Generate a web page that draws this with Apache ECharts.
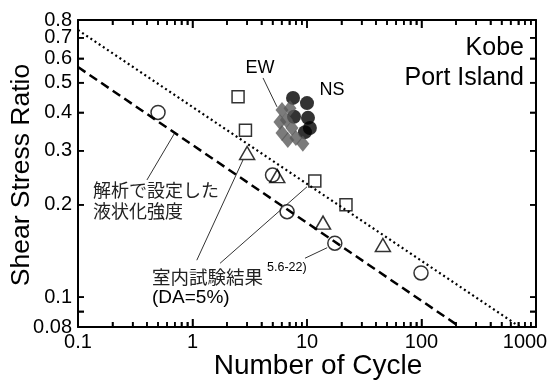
<!DOCTYPE html>
<html><head><meta charset="utf-8">
<script src="https://cdn.jsdelivr.net/npm/echarts@6/dist/echarts.min.js"></script>
<style>html,body{margin:0;padding:0;background:#fff}#c{width:550px;height:381px}</style>
</head><body><div id="c"></div>
<script>
// ---- data (N = number of cycles, ratio = shear stress ratio) ----
const xMajorTicks = [0.1, 1, 10, 100, 1000];
const xLabels = [0.1, 1, 10, 100];
const xLastLabel = [1000];
const xMinorTicks = [0.2,0.3,0.4,0.5,0.6,0.7,0.8,0.9, 2,3,4,5,6,7,8,9, 20,30,40,50,60,70,80,90, 200,300,400,500,600,700,800,900];
const yTicks = [0.09, 0.1, 0.2, 0.3, 0.4, 0.5, 0.6, 0.7];
const yLabels = [0.08, 0.1, 0.2, 0.3, 0.4, 0.5, 0.6, 0.7];
const yTopLabel = [0.79999];

const circles   = [[0.5, 0.40], [5.0, 0.25], [6.7, 0.19], [17.5, 0.15], [99, 0.12]];
const squares   = [[2.5, 0.45], [2.9, 0.35], [11.7, 0.239], [21.9, 0.20]];
const triangles = [[3.0, 0.295], [5.5, 0.248], [13.8, 0.175], [46, 0.148]];
const nsPoints  = [[7.55, 0.446], [10.0, 0.429], [10.2, 0.384], [10.6, 0.356], [9.6, 0.345], [7.7, 0.387]];
const ewPoints  = [[6.05, 0.407], [5.8, 0.372], [6.05, 0.343], [7.1, 0.413], [6.6, 0.378], [7.4, 0.356], [6.8, 0.325], [8.0, 0.330], [9.2, 0.316]];

const dottedLine = [[0.1, 0.742], [725, 0.08]];
const dashedLine = [[0.1, 0.562], [217, 0.08]];

const leaders = [
  [[0.40, 0.241], [0.70, 0.343]],
  [[1.09, 0.132], [2.76, 0.28]],
  [[1.74, 0.129], [10.0, 0.229]],
  [[9.6, 0.134], [15.0, 0.145]],
  [[4.13, 0.518], [5.47, 0.417]]
];

const FONT = '"Liberation Sans", Arial, sans-serif';
const JFONT = '"Noto Sans CJK JP", "Liberation Sans", sans-serif';

function fmt(v) { return String(Number(Number(v).toPrecision(2))); }

function xAx(pos, ticks, len, showLine, labels, pad) {
  return {
    type: 'log', logBase: 10, min: 0.1, max: 1000, position: pos,
    axisLine: {show: showLine, onZero: false, lineStyle: {color: '#000', width: 2}},
    axisTick: ticks ? {show: true, inside: true, length: len, customValues: ticks, lineStyle: {color: '#000', width: 1.5}} : {show: false},
    axisLabel: labels ? {show: true, customValues: labels, margin: 5, color: '#000',
      fontFamily: FONT, fontSize: 20, padding: pad || 0, formatter: fmt} : {show: false},
    splitLine: {show: false}, minorTick: {show: false}
  };
}
function yAx(pos, ticks, showLine, labels) {
  return {
    type: 'log', logBase: 10, min: 0.08, max: 0.8, position: pos,
    axisLine: {show: showLine, onZero: false, lineStyle: {color: '#000', width: 2}},
    axisTick: ticks ? {show: true, inside: true, length: 6, customValues: ticks, lineStyle: {color: '#000', width: 1.5}} : {show: false},
    axisLabel: labels ? {show: true, customValues: labels, margin: 6, color: '#000',
      fontFamily: FONT, fontSize: 20, formatter: fmt} : {show: false},
    splitLine: {show: false}, minorTick: {show: false}
  };
}

// tick marks drawn through the axes' own scales (inside ticks on all four sides)
function tickSeries(values, dir, len) {
  const data = values.map(function (v) { return dir === 'x' ? [v, 0.2] : [1, v]; });
  return {
    type: 'custom', silent: true, clip: false, z: 5, data: data,
    renderItem: function (params, api) {
      const cs = params.coordSys;
      const p = api.coord([api.value(0), api.value(1)]);
      const st = {stroke: '#000', lineWidth: 1.5};
      if (dir === 'x') {
        return {type: 'group', children: [
          {type: 'line', shape: {x1: p[0], y1: cs.y + cs.height, x2: p[0], y2: cs.y + cs.height - len}, style: st},
          {type: 'line', shape: {x1: p[0], y1: cs.y, x2: p[0], y2: cs.y + len}, style: st}
        ]};
      }
      return {type: 'group', children: [
        {type: 'line', shape: {x1: cs.x, y1: p[1], x2: cs.x + len, y2: p[1]}, style: st},
        {type: 'line', shape: {x1: cs.x + cs.width, y1: p[1], x2: cs.x + cs.width - len, y2: p[1]}, style: st}
      ]};
    }
  };
}

const openStyle = {color: '#fff', borderColor: '#000', borderWidth: 1.5};

const chart = echarts.init(document.getElementById('c'));
chart.setOption({
  animation: false,
  grid: {left: 78, right: 14, top: 20, bottom: 54, outerBoundsMode: 'none'},
  xAxis: [
    xAx('bottom', xMajorTicks, 8, true, xLabels),
    xAx('bottom', xMinorTicks, 5, false, null),
    xAx('top', xMajorTicks, 8, true, null),
    xAx('top', xMinorTicks, 5, false, null),
    xAx('bottom', null, 0, false, xLastLabel, [0, 22, 0, 0])
  ],
  yAxis: [
    yAx('left', yTicks, true, yLabels),
    yAx('right', yTicks, true, null),
    yAx('left', null, false, yTopLabel)
  ],
  series: [
    tickSeries(xMajorTicks, 'x', 8),
    tickSeries(xMinorTicks, 'x', 5),
    tickSeries(yTicks, 'y', 6),
    {type: 'line', data: dottedLine, symbol: 'none', silent: true,
     lineStyle: {color: '#000', width: 2.2, type: [2, 3]}},
    {type: 'line', data: dashedLine, symbol: 'none', silent: true,
     lineStyle: {color: '#000', width: 2.5, type: [9, 5]}},
    {type: 'lines', coordinateSystem: 'cartesian2d', silent: true,
     data: leaders.map(function (c) { return {coords: c}; }),
     lineStyle: {color: '#333', width: 1, opacity: 1}},
    {type: 'scatter', data: circles, symbol: 'circle', symbolSize: 14, itemStyle: openStyle},
    {type: 'scatter', data: squares, symbol: 'rect', symbolSize: 12, itemStyle: openStyle},
    {type: 'scatter', data: triangles, symbol: 'triangle', symbolSize: [15, 13],
     itemStyle: {color: 'rgba(255,255,255,0)', borderColor: '#000', borderWidth: 1.5}},
    {type: 'scatter', data: nsPoints, symbol: 'circle', symbolSize: 14, itemStyle: {color: '#000'}},
    {type: 'scatter', data: ewPoints, symbol: 'diamond', symbolSize: [13, 16], itemStyle: {color: '#5a5a5a'}}
  ],
  graphic: [
    {type: 'text', x: 318, y: 366, style: {text: 'Number of Cycle', textAlign: 'center', textVerticalAlign: 'middle', font: '28px ' + FONT, fill: '#000'}},
    {type: 'text', x: 22, y: 175, rotation: Math.PI / 2, style: {text: 'Shear Stress Ratio', textAlign: 'center', textVerticalAlign: 'middle', font: '26.5px ' + FONT, fill: '#000'}},
    {type: 'text', style: {text: 'Kobe', x: 524, y: 48, textAlign: 'right', textVerticalAlign: 'middle', font: '25px ' + FONT, fill: '#000'}},
    {type: 'text', style: {text: 'Port Island', x: 524, y: 78, textAlign: 'right', textVerticalAlign: 'middle', font: '25px ' + FONT, fill: '#000'}},
    {type: 'text', style: {text: 'EW', x: 260, y: 68, textAlign: 'center', textVerticalAlign: 'middle', font: '18px ' + FONT, fill: '#000'}},
    {type: 'text', style: {text: 'NS', x: 332, y: 90, textAlign: 'center', textVerticalAlign: 'middle', font: '18px ' + FONT, fill: '#000'}},
    {type: 'text', style: {text: '解析で設定した', x: 93, y: 190, textAlign: 'left', textVerticalAlign: 'middle', font: '18px ' + JFONT, fill: '#222'}},
    {type: 'text', style: {text: '液状化強度', x: 93, y: 211, textAlign: 'left', textVerticalAlign: 'middle', font: '18px ' + JFONT, fill: '#222'}},
    {type: 'text', style: {text: '室内試験結果', x: 152, y: 277, textAlign: 'left', textVerticalAlign: 'middle', font: '18.5px ' + JFONT, fill: '#222'}},
    {type: 'text', style: {text: '5.6-22)', x: 267, y: 268, textAlign: 'left', textVerticalAlign: 'middle', font: '12.5px ' + FONT, fill: '#000'}},
    {type: 'text', style: {text: '(DA=5%)', x: 152, y: 298, textAlign: 'left', textVerticalAlign: 'middle', font: '19px ' + FONT, fill: '#000'}}
  ]
});
</script></body></html>
